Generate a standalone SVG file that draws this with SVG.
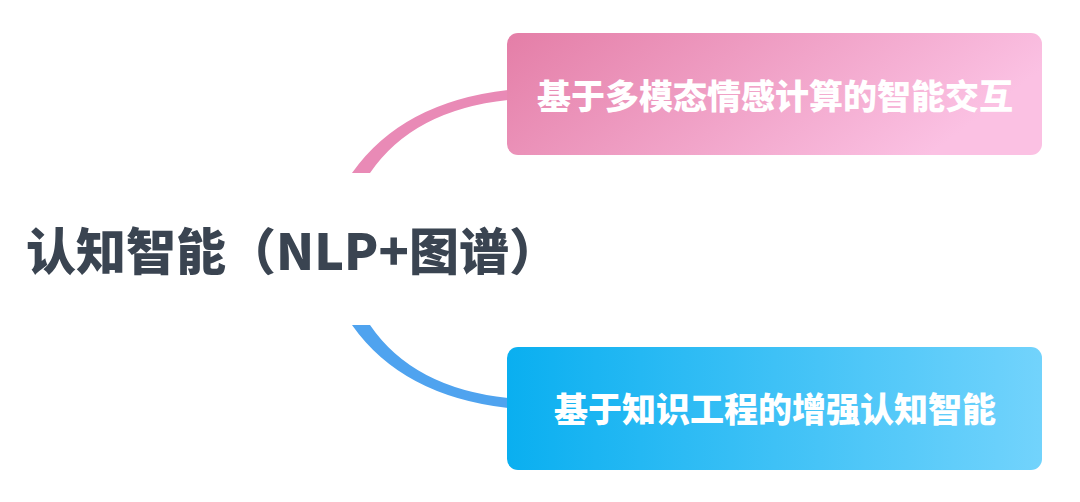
<svg xmlns="http://www.w3.org/2000/svg" width="1080" height="502" viewBox="0 0 1080 502">
<defs>
<linearGradient id="gPink" x1="0" y1="0" x2="1" y2="0.3">
<stop offset="0" stop-color="#e47ea7"/>
<stop offset="1" stop-color="#fbc1e3"/>
</linearGradient>
<linearGradient id="gBlue" x1="0" y1="0" x2="1" y2="0">
<stop offset="0" stop-color="#0aaff0"/>
<stop offset="1" stop-color="#72d3fc"/>
</linearGradient>
<style>
.box-text{font-family:"Noto Sans CJK SC","Noto Sans",sans-serif;font-weight:900;font-size:34px;fill:#ffffff;text-anchor:middle}
.main-text{font-family:"Noto Sans CJK SC","Noto Sans",sans-serif;font-weight:900;font-size:50px;fill:#3a4451}
</style>
</defs>
<rect width="1080" height="502" fill="#ffffff"/>
<g id="connectors">
<path d="M 352 173 Q 402 102 508 90 L 508 100 Q 413 110 370 173 Z" fill="#e98ab6"/>
<path d="M 352 325 Q 402 396 508 408 L 508 398 Q 413 388 370 325 Z" fill="#4fa3ef"/>
</g>
<g id="node-root">
<text class="main-text" x="26" y="270">认知智能（NLP+图谱）</text>
</g>
<g id="node-top">
<rect x="507" y="33" width="535" height="122" rx="11" fill="url(#gPink)"/>
<text class="box-text" x="775" y="109">基于多模态情感计算的智能交互</text>
</g>
<g id="node-bottom">
<rect x="507" y="347" width="535" height="123" rx="11" fill="url(#gBlue)"/>
<text class="box-text" x="775" y="422">基于知识工程的增强认知智能</text>
</g>
</svg>
